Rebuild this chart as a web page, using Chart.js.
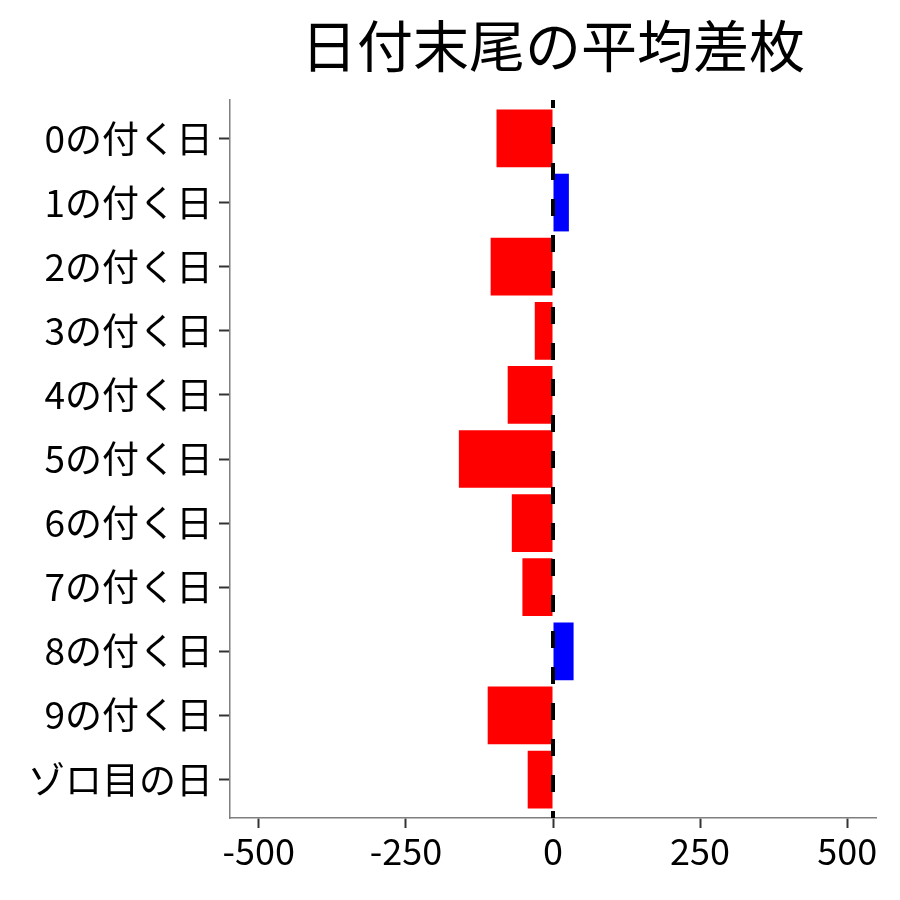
<!DOCTYPE html>
<html>
<head>
<meta charset="utf-8">
<script src="https://cdn.jsdelivr.net/npm/chart.js@4"></script>
<style>
  html, body { margin: 0; padding: 0; background: #fff; }
  #wrap { width: 900px; height: 900px; }
</style>
</head>
<body>
<div id="wrap"><canvas id="diffChart" width="900" height="900"></canvas></div>
<script>
const titleText = '日付末尾の平均差枚';
const categories = ['0の付く日', '1の付く日', '2の付く日', '3の付く日', '4の付く日',
    '5の付く日', '6の付く日', '7の付く日', '8の付く日', '9の付く日', 'ゾロ目の日'];
const avgDiff = [-96, 27, -106, -31, -77, -160, -70, -52, 35, -111, -43];
const xTicks = [-500, -250, 0, 250, 500];

const FONT = '"Noto Sans CJK JP", "Noto Sans", sans-serif';
const ctx = document.getElementById('diffChart').getContext('2d');

// dashed zero line + title centred over the plot area
const extras = {
    id: 'extras',
    afterDatasetsDraw(chart) {
        const { ctx, chartArea, scales } = chart;
        const x0 = scales.x.getPixelForValue(0);
        ctx.save();
        ctx.strokeStyle = '#000';
        ctx.lineWidth = 4;
        ctx.setLineDash([17, 19]);
        ctx.lineDashOffset = 9;
        ctx.beginPath();
        ctx.moveTo(x0, chartArea.top);
        ctx.lineTo(x0, chartArea.bottom);
        ctx.stroke();
        ctx.restore();
    },
    afterDraw(chart) {
        const { ctx, chartArea } = chart;
        ctx.save();
        ctx.fillStyle = '#000';
        ctx.font = '56px ' + FONT;
        ctx.textAlign = 'center';
        ctx.textBaseline = 'middle';
        ctx.fillText(titleText, (chartArea.left + chartArea.right) / 2, 46);
        ctx.restore();
    },
};

const diffChart = new Chart(ctx, {
    type: 'bar',
    data: {
        datasets: [{
            data: avgDiff.map((v, i) => ({ x: v, y: i })),
            backgroundColor: avgDiff.map(v => (v < 0 ? '#ff0000' : '#0000ff')),
            barPercentage: 0.9,
            categoryPercentage: 1,
        }],
    },
    options: {
        indexAxis: 'y',
        responsive: false,
        animation: false,
        layout: { padding: { top: 100, right: 24, left: 0, bottom: 0 } },
        plugins: {
            legend: { display: false },
            tooltip: { enabled: false },
        },
        scales: {
            x: {
                type: 'linear',
                min: -549,
                max: 549,
                afterBuildTicks: scale => { scale.ticks = xTicks.map(v => ({ value: v })); },
                afterFit: scale => { scale.height = 82; },
                grid: {
                    drawOnChartArea: false,
                    drawTicks: true,
                    tickLength: 10,
                    tickColor: '#333',
                    tickWidth: 2,
                },
                border: { display: true, color: '#7f7f7f', width: 1.5 },
                ticks: {
                    color: '#000',
                    padding: 2,
                    font: { family: FONT, size: 36 },
                    maxRotation: 0,
                },
            },
            y: {
                type: 'linear',
                reverse: true,
                offset: false,
                min: -0.6,
                max: categories.length - 0.4,
                afterBuildTicks: scale => { scale.ticks = categories.map((c, i) => ({ value: i })); },
                afterFit: scale => { scale.width = 230; },
                grid: {
                    offset: false,
                    drawOnChartArea: false,
                    drawTicks: true,
                    tickLength: 11,
                    tickColor: '#333',
                    tickWidth: 2,
                },
                border: { display: true, color: '#7f7f7f', width: 1.5 },
                ticks: {
                    color: '#000',
                    padding: 6,
                    font: { family: FONT, size: 37 },
                    callback: value => categories[value],
                },
            },
        },
    },
    plugins: [extras],
});
</script>
</body>
</html>
